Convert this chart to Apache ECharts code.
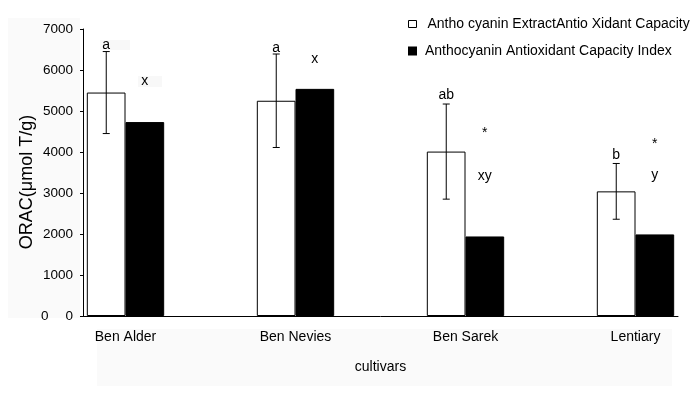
<!DOCTYPE html>
<html>
<head>
<meta charset="utf-8">
<script src="https://cdn.jsdelivr.net/npm/echarts@6/dist/echarts.min.js"></script>
<style>
  html, body { margin: 0; padding: 0; background: #fff; }
  #chart { width: 691px; height: 398px; }
</style>
</head>
<body>
<div id="chart"></div>
<script>
// cultivars, with empty spacer slots between groups
const categories = ['Ben Alder', '', 'Ben Nevies', '', 'Ben Sarek', '', 'Lentiary'];
const extractValues = [5450, null, 5250, null, 4010, null, 3040];
const extractErrors = [1000, null, 1140, null, 1160, null, 680];
const indexValues = [4730, null, 5540, null, 1940, null, 1990];
const seriesNames = ['Antho cyanin ExtractAntio Xidant Capacity', 'Anthocyanin Antioxidant Capacity Index'];
// significance letters: [category index, side (0 white / 1 black), value, text]
const letters = [
  [0, 0, 6600, 'a'], [0, 1, 5740, 'x'],
  [2, 0, 6540, 'a'], [2, 1, 6270, 'x'],
  [4, 0, 5390, 'ab'], [4, 1, 4470, '*'], [4, 1, 3400, 'xy'],
  [6, 0, 3930, 'b'], [6, 1, 4200, '*'], [6, 1, 3440, 'y']
];

const font = 'Liberation Sans, Arial, sans-serif';
const chart = echarts.init(document.getElementById('chart'));

const errData = [];
extractValues.forEach((v, i) => {
  if (v != null) errData.push([i, v - extractErrors[i], v + extractErrors[i]]);
});

const sideOffset = 0.2265; // bar centre offset as a fraction of the band

const legendText = { fontSize: 14, color: '#000', fontFamily: font };

const option = {
  animation: false,
  backgroundColor: '#fff',
  textStyle: { fontFamily: font },
  graphic: [
    { type: 'rect', z: -10, shape: { x: 8, y: 18, width: 72, height: 300 }, style: { fill: '#fafafa' } },
    { type: 'rect', z: -10, shape: { x: 97, y: 329, width: 575, height: 57 }, style: { fill: '#fafafa' } },
    { type: 'rect', z: -5, shape: { x: 100, y: 40, width: 30, height: 10 }, style: { fill: '#f8f8f8' } },
    { type: 'rect', z: -5, shape: { x: 138, y: 76, width: 24, height: 11 }, style: { fill: '#f8f8f8' } },
    { type: 'text', left: 41, top: 309, style: { text: '0', fill: '#000', font: '13.5px ' + font } },
    {
      type: 'text', x: 27, y: 182, rotation: Math.PI / 2,
      style: { text: 'ORAC(\u03bcmol T/g)', fill: '#000', font: '18px ' + font, align: 'center', verticalAlign: 'middle' }
    }
  ],
  legend: [
    {
      left: 403,
      top: 12,
      itemWidth: 8,
      itemHeight: 7,
      icon: 'rect',
      itemStyle: { borderWidth: 1, borderColor: '#000' },
      textStyle: Object.assign({ padding: [0, 0, 0, 6] }, legendText),
      data: [seriesNames[0]]
    },
    {
      left: 403,
      top: 39,
      itemWidth: 7,
      itemHeight: 7,
      icon: 'rect',
      textStyle: Object.assign({ padding: [0, 0, 0, 4] }, legendText),
      data: [seriesNames[1]]
    }
  ],
  grid: { left: 83, right: 13, top: 29, bottom: 82 },
  xAxis: {
    type: 'category',
    data: categories,
    name: 'cultivars',
    nameLocation: 'middle',
    nameGap: 44,
    nameTextStyle: { fontSize: 14, color: '#000' },
    axisLine: { lineStyle: { color: '#000', width: 1 } },
    axisTick: { length: 5, lineStyle: { color: '#000' } },
    axisLabel: { fontSize: 14, color: '#000', margin: 14, interval: 0 }
  },
  yAxis: {
    type: 'value',
    min: 0,
    max: 7000,
    interval: 1000,
    splitLine: { show: false },
    axisLine: { show: true, lineStyle: { color: '#000', width: 1 } },
    axisTick: { show: true, length: 3, lineStyle: { color: '#000' } },
    axisLabel: { fontSize: 13.5, color: '#000', margin: 10, formatter: v => String(v) }
  },
  series: [
    {
      name: seriesNames[0],
      type: 'bar',
      data: extractValues,
      barGap: '0%',
      barCategoryGap: '9%',
      itemStyle: { color: '#fff', borderColor: '#000', borderWidth: 1 }
    },
    {
      name: seriesNames[1],
      type: 'bar',
      data: indexValues,
      itemStyle: { color: '#000', borderColor: '#000', borderWidth: 1 }
    },
    {
      type: 'custom',
      data: errData,
      z: 5,
      renderItem: function (params, api) {
        const band = api.size([1, 0])[0];
        const top = api.coord([api.value(0), api.value(2)]);
        const bot = api.coord([api.value(0), api.value(1)]);
        const x = top[0] - band * sideOffset;
        const cap = 3.5;
        const style = { stroke: '#000', lineWidth: 1 };
        return {
          type: 'group',
          children: [
            { type: 'line', shape: { x1: x, y1: top[1], x2: x, y2: bot[1] }, style: style },
            { type: 'line', shape: { x1: x - cap, y1: top[1], x2: x + cap, y2: top[1] }, style: style },
            { type: 'line', shape: { x1: x - cap, y1: bot[1], x2: x + cap, y2: bot[1] }, style: style }
          ]
        };
      }
    },
    {
      type: 'custom',
      data: letters,
      z: 6,
      renderItem: function (params, api) {
        const band = api.size([1, 0])[0];
        const p = api.coord([api.value(0), api.value(2)]);
        const side = api.value(1) === 0 ? -1 : 1;
        return {
          type: 'text',
          style: {
            x: p[0] + side * band * sideOffset,
            y: p[1],
            text: letters[params.dataIndex][3],
            fill: '#000',
            font: '14px ' + font,
            align: 'center',
            verticalAlign: 'middle'
          }
        };
      }
    }
  ]
};

chart.setOption(option);
</script>
</body>
</html>
